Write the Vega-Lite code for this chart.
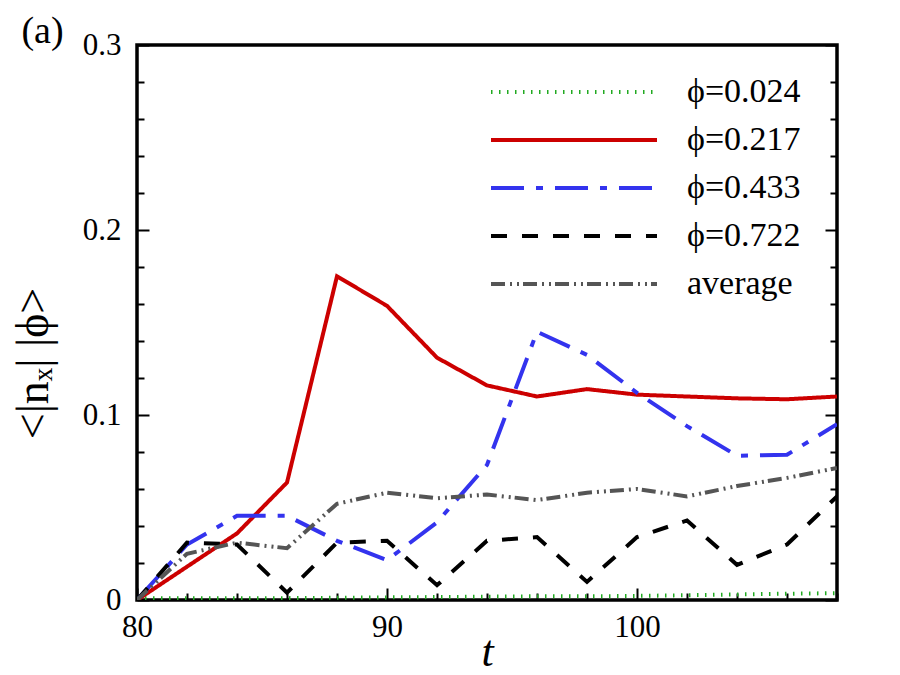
{
  "$schema": "https://vega.github.io/schema/vega-lite/v6.json",
  "autosize": "none",
  "width": 700,
  "height": 555,
  "padding": {"left": 137, "top": 45, "right": 63, "bottom": 75},
  "background": "white",
  "config": {
    "view": {"stroke": "black", "strokeWidth": 3.5},
    "font": "Liberation Serif",
    "axis": {"domain": false, "grid": false, "labelFont": "Liberation Serif", "labelFontSize": 31, "labelColor": "black", "tickColor": "black", "tickWidth": 2, "titleFont": "Liberation Serif", "titleColor": "black", "titleFontWeight": "normal"},
    "legend": {"labelFont": "Liberation Serif", "labelFontSize": 34, "labelColor": "black"}
  },
  "data": {"values": [
    {"t": 80, "v": 0.001, "s": "ϕ=0.024"}, {"t": 82, "v": 0.001, "s": "ϕ=0.024"}, {"t": 84, "v": 0.001, "s": "ϕ=0.024"}, {"t": 86, "v": 0.001, "s": "ϕ=0.024"}, {"t": 88, "v": 0.0012, "s": "ϕ=0.024"}, {"t": 90, "v": 0.0014, "s": "ϕ=0.024"}, {"t": 92, "v": 0.0016, "s": "ϕ=0.024"}, {"t": 94, "v": 0.0018, "s": "ϕ=0.024"}, {"t": 96, "v": 0.002, "s": "ϕ=0.024"}, {"t": 98, "v": 0.002, "s": "ϕ=0.024"}, {"t": 100, "v": 0.0022, "s": "ϕ=0.024"}, {"t": 102, "v": 0.0026, "s": "ϕ=0.024"}, {"t": 104, "v": 0.003, "s": "ϕ=0.024"}, {"t": 106, "v": 0.0034, "s": "ϕ=0.024"}, {"t": 108, "v": 0.0037, "s": "ϕ=0.024"},
    {"t": 80, "v": 0, "s": "ϕ=0.217"}, {"t": 82, "v": 0.018, "s": "ϕ=0.217"}, {"t": 84, "v": 0.036, "s": "ϕ=0.217"}, {"t": 86, "v": 0.0635, "s": "ϕ=0.217"}, {"t": 88, "v": 0.175, "s": "ϕ=0.217"}, {"t": 90, "v": 0.159, "s": "ϕ=0.217"}, {"t": 92, "v": 0.131, "s": "ϕ=0.217"}, {"t": 94, "v": 0.116, "s": "ϕ=0.217"}, {"t": 96, "v": 0.110, "s": "ϕ=0.217"}, {"t": 98, "v": 0.114, "s": "ϕ=0.217"}, {"t": 100, "v": 0.111, "s": "ϕ=0.217"}, {"t": 102, "v": 0.110, "s": "ϕ=0.217"}, {"t": 104, "v": 0.109, "s": "ϕ=0.217"}, {"t": 106, "v": 0.1085, "s": "ϕ=0.217"}, {"t": 108, "v": 0.110, "s": "ϕ=0.217"},
    {"t": 80, "v": 0, "s": "ϕ=0.433"}, {"t": 82, "v": 0.030, "s": "ϕ=0.433"}, {"t": 84, "v": 0.0455, "s": "ϕ=0.433"}, {"t": 86, "v": 0.0455, "s": "ϕ=0.433"}, {"t": 88, "v": 0.032, "s": "ϕ=0.433"}, {"t": 90, "v": 0.0215, "s": "ϕ=0.433"}, {"t": 92, "v": 0.042, "s": "ϕ=0.433"}, {"t": 94, "v": 0.073, "s": "ϕ=0.433"}, {"t": 96, "v": 0.145, "s": "ϕ=0.433"}, {"t": 98, "v": 0.1325, "s": "ϕ=0.433"}, {"t": 100, "v": 0.112, "s": "ϕ=0.433"}, {"t": 102, "v": 0.094, "s": "ϕ=0.433"}, {"t": 104, "v": 0.078, "s": "ϕ=0.433"}, {"t": 106, "v": 0.0785, "s": "ϕ=0.433"}, {"t": 108, "v": 0.095, "s": "ϕ=0.433"},
    {"t": 80, "v": 0, "s": "ϕ=0.722"}, {"t": 82, "v": 0.031, "s": "ϕ=0.722"}, {"t": 84, "v": 0.030, "s": "ϕ=0.722"}, {"t": 86, "v": 0.004, "s": "ϕ=0.722"}, {"t": 88, "v": 0.031, "s": "ϕ=0.722"}, {"t": 90, "v": 0.032, "s": "ϕ=0.722"}, {"t": 92, "v": 0.008, "s": "ϕ=0.722"}, {"t": 94, "v": 0.032, "s": "ϕ=0.722"}, {"t": 96, "v": 0.034, "s": "ϕ=0.722"}, {"t": 98, "v": 0.0098, "s": "ϕ=0.722"}, {"t": 100, "v": 0.034, "s": "ϕ=0.722"}, {"t": 102, "v": 0.043, "s": "ϕ=0.722"}, {"t": 104, "v": 0.019, "s": "ϕ=0.722"}, {"t": 106, "v": 0.030, "s": "ϕ=0.722"}, {"t": 108, "v": 0.056, "s": "ϕ=0.722"},
    {"t": 80, "v": 0, "s": "average"}, {"t": 82, "v": 0.025, "s": "average"}, {"t": 84, "v": 0.031, "s": "average"}, {"t": 86, "v": 0.028, "s": "average"}, {"t": 88, "v": 0.052, "s": "average"}, {"t": 90, "v": 0.058, "s": "average"}, {"t": 92, "v": 0.055, "s": "average"}, {"t": 94, "v": 0.057, "s": "average"}, {"t": 96, "v": 0.054, "s": "average"}, {"t": 98, "v": 0.058, "s": "average"}, {"t": 100, "v": 0.060, "s": "average"}, {"t": 102, "v": 0.056, "s": "average"}, {"t": 104, "v": 0.0616, "s": "average"}, {"t": 106, "v": 0.066, "s": "average"}, {"t": 108, "v": 0.0714, "s": "average"}
  ]},
  "resolve": {"axis": {"y": "independent", "x": "independent"}},
  "layer": [
    {
      "mark": {"type": "line", "clip": true},
      "encoding": {
        "x": {"field": "t", "type": "quantitative", "scale": {"domain": [80, 108], "nice": false, "zero": false},
          "axis": {"orient": "bottom", "title": "t", "titleFontStyle": "italic", "titleFontSize": 44, "titleBaseline": "alphabetic", "titleY": 65,
            "values": [80, 82, 84, 86, 88, 90, 92, 94, 96, 98, 100, 102, 104, 106, 108],
            "tickSize": {"condition": {"test": "datum.value % 10 === 0", "value": -12}, "value": -7},
            "labelExpr": "datum.value % 10 === 0 ? datum.label : ''", "labelPadding": 24, "labelFlush": false}},
        "y": {"field": "v", "type": "quantitative", "scale": {"domain": [0, 0.3], "nice": false},
          "axis": {"title": "<|nₓ| |ϕ>", "titleFontSize": 46, "titleX": -104, "titleY": 318, "titleAngle": -90, "titleBaseline": "middle", "titleAlign": "center",
            "values": [0, 0.02, 0.04, 0.06, 0.08, 0.1, 0.12, 0.14, 0.16, 0.18, 0.2, 0.22, 0.24, 0.26, 0.28, 0.3],
            "tickSize": {"condition": {"test": "abs(datum.value*10 - round(datum.value*10)) < 1e-6", "value": -12}, "value": -7},
            "labelExpr": "abs(datum.value*10 - round(datum.value*10)) < 1e-6 ? (datum.value === 0 ? '0' : format(datum.value, '.1f')) : ''", "labelPadding": 28, "labelFlush": false}},
        "color": {"field": "s", "type": "nominal", "title": null,
          "scale": {"domain": ["ϕ=0.024", "ϕ=0.217", "ϕ=0.433", "ϕ=0.722", "average"], "range": ["#22aa22", "#cc0000", "#3333ee", "#000000", "#555555"]},
          "legend": {"orient": "none", "legendX": 420, "legendY": 30, "symbolType": "M-16.6,0H16.6", "symbolSize": 100, "symbolStrokeWidth": 4, "labelOffset": 96, "rowPadding": 14, "labelFontSize": 34}},
        "strokeDash": {"field": "s", "type": "nominal", "title": null,
          "scale": {"domain": ["ϕ=0.024", "ϕ=0.217", "ϕ=0.433", "ϕ=0.722", "average"], "range": [[1.5, 6.5], [1, 0], [33, 12, 7, 12], [16, 15], [14, 5, 2, 5, 2, 4]]}},
        "strokeWidth": {"field": "s", "type": "nominal", "legend": null,
          "scale": {"domain": ["ϕ=0.024", "ϕ=0.217", "ϕ=0.433", "ϕ=0.722", "average"], "range": [4, 4, 4, 3.5, 3.5]}}
      }
    },
    {
      "mark": {"type": "line", "opacity": 0},
      "encoding": {
        "x": {"field": "t", "type": "quantitative",
          "axis": {"orient": "top", "title": "(a)", "titleFontSize": 38, "titleX": -95, "titleY": -3, "titleAlign": "center", "titleBaseline": "alphabetic", "ticks": false, "labels": false}},
        "y": {"field": "v", "type": "quantitative",
          "axis": {"orient": "right", "title": null, "labels": false,
            "values": [0, 0.02, 0.04, 0.06, 0.08, 0.1, 0.12, 0.14, 0.16, 0.18, 0.2, 0.22, 0.24, 0.26, 0.28, 0.3],
            "tickSize": {"condition": {"test": "abs(datum.value*10 - round(datum.value*10)) < 1e-6", "value": -12}, "value": -7}}},
        "detail": {"field": "s", "type": "nominal"}
      }
    }
  ]
}
